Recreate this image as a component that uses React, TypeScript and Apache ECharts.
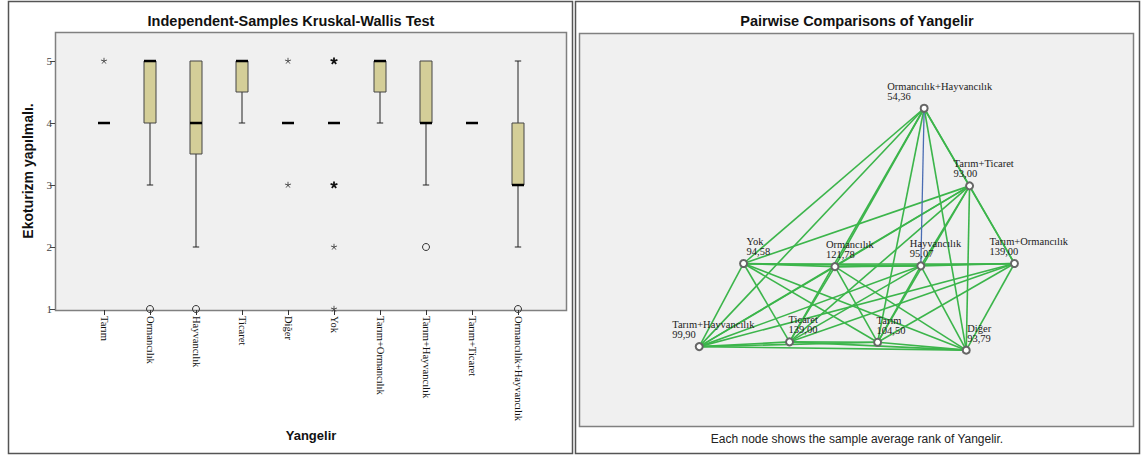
import React, { useEffect, useRef } from "react";
import * as echarts from "echarts";

// ---------- Data: left panel (boxplot) ----------
const categories = [
  "Tarım",
  "Ormancılık",
  "Hayvancılık",
  "Ticaret",
  "Diğer",
  "Yok",
  "Tarım+Ormancılık",
  "Tarım+Hayvancılık",
  "Tarım+Ticaret",
  "Ormancılık+Hayvancılık",
];
const boxMin = [4, 3, 2, 4, 4, 4, 4, 3, 4, 2];
const boxQ1 = [4, 4, 3.5, 4.5, 4, 4, 4.5, 4, 4, 3];
const boxMedian = [4, 5, 4, 5, 4, 4, 5, 4, 4, 3];
const boxQ3 = [4, 5, 5, 5, 4, 4, 5, 5, 4, 4];
const boxMax = [4, 5, 5, 5, 4, 4, 5, 5, 4, 5];

// outliers: category index, value, kind (0 = star, 1 = extreme star, 2 = circle)
const outlierCat = [0, 1, 2, 4, 4, 5, 5, 5, 5, 7, 9];
const outlierValue = [5, 1, 1, 5, 3, 5, 3, 2, 1, 2, 1];
const outlierKind = [0, 2, 2, 0, 0, 1, 1, 0, 0, 2, 2];

const yTicks = [1, 2, 3, 4, 5];

// ---------- Data: right panel (pairwise comparisons network) ----------
const nodeNames = [
  "Ormancılık+Hayvancılık",
  "Tarım+Ticaret",
  "Tarım+Ormancılık",
  "Hayvancılık",
  "Ormancılık",
  "Yok",
  "Tarım+Hayvancılık",
  "Ticaret",
  "Tarım",
  "Diğer",
];
const nodeRanks = ["54,36", "93,00", "139,00", "95,07", "121,78", "94,58", "99,90", "139,00", "104,50", "93,79"];
// layout coordinates of the network (0-100 space)
const nodeX = [62.3, 70.5, 78.6, 61.7, 46.2, 29.7, 21.7, 38.0, 53.9, 69.9];
const nodeY = [80.9, 61.2, 41.5, 40.9, 40.7, 41.5, 20.4, 21.6, 21.5, 19.5];
const bluePair = [0, 3];

// label styling offsets (px)
const labelDx = [-36, -15, -24, -10, -8, 4, -26, 0, 0, 2];

const GREEN = "#3cb54b";
const BLUE = "#4a6cb3";
const BOX_FILL = "#d4ce98";

export default function App() {
  const ref = useRef<HTMLDivElement>(null);

  useEffect(() => {
    if (!ref.current) return;
    const chart = echarts.init(ref.current, undefined, { renderer: "svg" });

    const boxData = categories.map((_, i) => [i, boxMin[i], boxQ1[i], boxMedian[i], boxQ3[i], boxMax[i]]);
    const outlierData = outlierCat.map((c, i) => [c, outlierValue[i], outlierKind[i]]);

    const links: any[] = [];
    let blueLink: any = null;
    for (let i = 0; i < nodeNames.length; i++) {
      for (let j = i + 1; j < nodeNames.length; j++) {
        const isBlue = (i === bluePair[0] && j === bluePair[1]) || (i === bluePair[1] && j === bluePair[0]);
        if (isBlue) {
          blueLink = { source: i, target: j, lineStyle: { color: BLUE, width: 1.3 } };
        } else {
          links.push({ source: i, target: j });
        }
      }
    }
    if (blueLink) links.push(blueLink);

    const option: any = {
      animation: false,
      backgroundColor: "#ffffff",
      graphic: [
        // panel frames
        { type: "rect", z: -5, shape: { x: 8.5, y: 1.5, width: 564, height: 452 }, style: { fill: "#ffffff", stroke: "#555", lineWidth: 1.5 } },
        { type: "rect", z: -5, shape: { x: 575.5, y: 1.5, width: 564, height: 452 }, style: { fill: "#ffffff", stroke: "#555", lineWidth: 1.5 } },
        // plot backgrounds
        { type: "rect", z: -1, shape: { x: 55.5, y: 32.5, width: 511, height: 278 }, style: { fill: "#f0f0f0", stroke: "#808080", lineWidth: 1.5 } },
        { type: "rect", z: -1, shape: { x: 579.5, y: 33.5, width: 554, height: 393 }, style: { fill: "#f0f0f0", stroke: "#808080", lineWidth: 1.5 } },
        // titles
        {
          type: "text",
          x: 291,
          y: 21,
          style: {
            text: "Independent-Samples Kruskal-Wallis Test",
            fontFamily: "Liberation Sans",
            fontSize: 14.5,
            fontWeight: "bold",
            fill: "#111",
            align: "center",
            verticalAlign: "middle",
          },
        },
        {
          type: "text",
          x: 857,
          y: 21,
          style: {
            text: "Pairwise Comparisons of Yangelir",
            fontFamily: "Liberation Sans",
            fontSize: 14.5,
            fontWeight: "bold",
            fill: "#111",
            align: "center",
            verticalAlign: "middle",
          },
        },
        {
          type: "text",
          x: 857,
          y: 439,
          style: {
            text: "Each node shows the sample average rank of Yangelir.",
            fontFamily: "Liberation Sans",
            fontSize: 12,
            fill: "#222",
            align: "center",
            verticalAlign: "middle",
          },
        },
      ],
      grid: [
        { left: 81, top: 32, width: 460, height: 278 },
        { left: 579, top: 33, width: 554, height: 394 },
      ],
      xAxis: [
        {
          gridIndex: 0,
          type: "category",
          data: categories,
          axisLine: { show: false },
          axisTick: { show: true, alignWithLabel: true, length: 5, lineStyle: { color: "#333" } },
          axisLabel: {
            interval: 0,
            rotate: -90,
            margin: 6,
            fontFamily: "Liberation Serif",
            fontSize: 10.5,
            color: "#111",
          },
          splitLine: { show: false },
          name: "Yangelir",
          nameLocation: "middle",
          nameGap: 116,
          nameTextStyle: { fontFamily: "Liberation Sans", fontWeight: "bold", fontSize: 13, color: "#111" },
        },
        { gridIndex: 1, type: "value", min: 0, max: 100, show: false },
      ],
      yAxis: [
        {
          gridIndex: 0,
          type: "value",
          min: 0.984,
          max: 5.468,
          offset: 26,
          axisLine: { show: false },
          splitLine: { show: false },
          axisTick: { show: true, length: 5, customValues: yTicks, lineStyle: { color: "#444" } },
          axisLabel: {
            customValues: yTicks,
            margin: 3,
            fontFamily: "Liberation Serif",
            fontSize: 11,
            color: "#444",
          },
          name: "Ekoturizm yapılmalı.",
          nameLocation: "middle",
          nameRotate: 90,
          nameGap: 20,
          nameTextStyle: { fontFamily: "Liberation Sans", fontWeight: "bold", fontSize: 14, color: "#111" },
        },
        { gridIndex: 1, type: "value", min: 0, max: 100, show: false },
      ],
      series: [
        {
          type: "custom",
          xAxisIndex: 0,
          yAxisIndex: 0,
          data: boxData,
          encode: { x: 0, y: [1, 2, 3, 4, 5] },
          renderItem: (params: any, api: any) => {
            const i = api.value(0);
            const mn = api.value(1);
            const q1 = api.value(2);
            const md = api.value(3);
            const q3 = api.value(4);
            const mx = api.value(5);
            const cx = api.coord([i, md])[0];
            const y = (v: number) => api.coord([i, v])[1];
            const hw = 6;
            const cap = 3.2;
            const children: any[] = [];
            const lineStyle = { stroke: "#222", lineWidth: 1 };
            if (q1 > mn) {
              children.push({ type: "line", shape: { x1: cx, y1: y(mn), x2: cx, y2: y(q1) }, style: lineStyle });
              children.push({ type: "line", shape: { x1: cx - cap, y1: y(mn), x2: cx + cap, y2: y(mn) }, style: lineStyle });
            }
            if (mx > q3) {
              children.push({ type: "line", shape: { x1: cx, y1: y(q3), x2: cx, y2: y(mx) }, style: lineStyle });
              children.push({ type: "line", shape: { x1: cx - cap, y1: y(mx), x2: cx + cap, y2: y(mx) }, style: lineStyle });
            }
            if (q3 > q1) {
              children.push({
                type: "rect",
                shape: { x: cx - hw, y: y(q3), width: hw * 2, height: y(q1) - y(q3) },
                style: { fill: BOX_FILL, stroke: "#444", lineWidth: 1 },
              });
            }
            children.push({
              type: "line",
              shape: { x1: cx - hw, y1: y(md), x2: cx + hw, y2: y(md) },
              style: { stroke: "#000", lineWidth: 2.5 },
            });
            return { type: "group", children };
          },
          z: 3,
        },
        {
          type: "custom",
          xAxisIndex: 0,
          yAxisIndex: 0,
          data: outlierData,
          encode: { x: 0, y: 1 },
          renderItem: (params: any, api: any) => {
            const p = api.coord([api.value(0), api.value(1)]);
            const kind = api.value(2);
            if (kind === 2) {
              return {
                type: "circle",
                shape: { cx: p[0], cy: p[1], r: 3.5 },
                style: { fill: "none", stroke: "#333", lineWidth: 1 },
              };
            }
            const r = kind === 1 ? 3.6 : 3.2;
            const w = kind === 1 ? 1.8 : 0.9;
            const col = kind === 1 ? "#111" : "#444";
            const children: any[] = [];
            const angles = [90, 18, 162, -54, -126];
            for (const a of angles) {
              const rad = (a * Math.PI) / 180;
              children.push({
                type: "line",
                shape: { x1: p[0], y1: p[1], x2: p[0] + r * Math.cos(rad), y2: p[1] - r * Math.sin(rad) },
                style: { stroke: col, lineWidth: w },
              });
            }
            return { type: "group", children };
          },
          z: 4,
        },
        {
          type: "graph",
          layout: "none",
          coordinateSystem: "cartesian2d",
          xAxisIndex: 1,
          yAxisIndex: 1,
          symbol: "emptyCircle",
          symbolSize: 7,
          roam: false,
          edgeSymbol: ["none", "none"],
          itemStyle: { color: "#666", borderColor: "#666", borderWidth: 0.8 },
          lineStyle: { color: GREEN, width: 1.6, opacity: 1, curveness: 0 },
          emphasis: { disabled: true },
          label: {
            show: true,
            align: "left",
            verticalAlign: "bottom",
            fontFamily: "Liberation Serif",
            fontSize: 10.5,
            lineHeight: 10,
            color: "#222",
            formatter: (p: any) => `${nodeNames[p.dataIndex]}\n${nodeRanks[p.dataIndex]}`,
          },
          data: nodeNames.map((n, i) => ({
            name: n,
            value: [nodeX[i], nodeY[i]],
            label: { position: [labelDx[i] + 3.5, -2.5] },
          })),
          links,
          z: 3,
        },
      ],
    };

    chart.setOption(option);
    return () => chart.dispose();
  }, []);

  return (
    <div
      ref={ref}
      style={{ position: "absolute", left: 0, top: 0, width: 1142, height: 457, background: "#fff" }}
    />
  );
}
